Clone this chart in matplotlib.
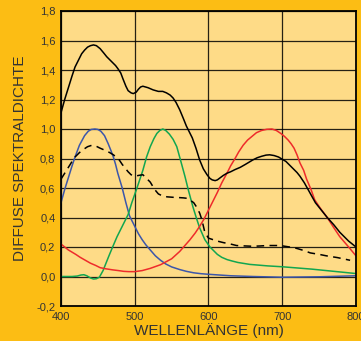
import numpy as np
import matplotlib.pyplot as plt

# wavelength (nm) / value pairs
wl_total = [400, 405, 410, 415, 419, 424, 428, 432, 436, 440, 444, 448, 453, 458, 462, 466, 470, 474,
            477, 481, 484, 488, 491, 495, 498, 502, 505, 508, 511, 518, 525, 532, 538, 543, 548,
            552, 556, 561, 566, 570, 574, 578, 583, 588, 593, 598, 602, 605, 609, 612, 616, 620,
            625, 630, 636, 643, 650, 660, 666, 672, 678, 683, 689, 695, 700, 705, 710, 715, 720,
            724, 730, 735, 740, 745, 753, 761, 770, 778, 784, 790, 795, 800]
total = [1.11, 1.20, 1.28, 1.36, 1.42, 1.47, 1.51, 1.535, 1.555, 1.565, 1.57, 1.565, 1.545, 1.515, 1.49,
         1.47, 1.45, 1.43, 1.41, 1.38, 1.34, 1.29, 1.26, 1.245, 1.24, 1.25, 1.27, 1.285, 1.29, 1.28,
         1.265, 1.255, 1.255, 1.245, 1.23, 1.21, 1.18, 1.13, 1.07, 1.02, 0.98, 0.94, 0.87, 0.79, 0.73,
         0.69, 0.665, 0.655, 0.65, 0.655, 0.67, 0.685, 0.70, 0.71, 0.725, 0.74, 0.76, 0.79, 0.805,
         0.815, 0.823, 0.825, 0.82, 0.81, 0.795, 0.78, 0.755, 0.73, 0.705, 0.68, 0.635, 0.59, 0.545,
         0.50, 0.45, 0.40, 0.35, 0.30, 0.27, 0.24, 0.22, 0.20]

wl_blue = [400, 405, 410, 415, 419, 425, 432, 437, 441, 446, 450, 454, 459, 464, 468, 471, 474, 477,
           480, 483, 488, 493, 500, 505, 510, 515, 521, 528, 535, 542, 550, 561, 570, 580, 590, 600,
           615, 630, 660, 700, 750, 800]
blue = [0.50, 0.59, 0.67, 0.75, 0.81, 0.89, 0.955, 0.985, 0.997, 1.0, 0.997, 0.985, 0.955, 0.90, 0.85,
        0.81, 0.76, 0.70, 0.65, 0.60, 0.50, 0.41, 0.34, 0.29, 0.25, 0.215, 0.18, 0.14, 0.11, 0.085,
        0.065, 0.047, 0.035, 0.025, 0.019, 0.015, 0.01, 0.005, 0.0, -0.005, -0.002, 0.005]

wl_green = [400, 415, 422, 427, 431, 435, 440, 444, 448, 452, 457, 465, 470, 476, 481, 485, 491,
            496, 503, 511, 516, 521, 526, 530, 534, 538, 542, 547, 552, 557, 562, 568, 573, 579,
            584, 588, 595, 602, 608, 612, 618, 625, 632, 640, 656, 680, 700, 740, 770, 800]
green = [0.0, 0.0, 0.003, 0.01, 0.012, 0.005, -0.01, -0.017, -0.015, -0.005, 0.04, 0.14, 0.20, 0.27,
         0.32, 0.36, 0.42, 0.50, 0.60, 0.72, 0.81, 0.88, 0.935, 0.97, 0.99, 1.0, 0.99, 0.965, 0.93, 0.88,
         0.79, 0.68, 0.58, 0.47, 0.39, 0.33, 0.25, 0.20, 0.17, 0.15, 0.13, 0.115, 0.105, 0.095, 0.082,
         0.072, 0.066, 0.05, 0.035, 0.02]

wl_red = [400, 410, 420, 426, 433, 440, 447, 453, 461, 470, 478, 485, 492, 500, 510, 521, 535, 550,
          561, 568, 575, 582, 588, 594, 600, 606, 612, 618, 625, 630, 636, 641, 647, 653, 659, 665,
          672, 679, 686, 692, 698, 703, 708, 712, 716, 720, 724, 729, 733, 739, 744, 752, 761, 770,
          778, 784, 790, 795, 800]
red = [0.22, 0.18, 0.15, 0.13, 0.11, 0.09, 0.075, 0.06, 0.052, 0.045, 0.04, 0.035, 0.033, 0.033, 0.04,
       0.055, 0.08, 0.12, 0.17, 0.21, 0.25, 0.295, 0.34, 0.39, 0.45, 0.51, 0.57, 0.635, 0.70, 0.75, 0.80,
       0.845, 0.89, 0.925, 0.95, 0.975, 0.99, 0.998, 1.0, 0.99, 0.97, 0.95, 0.925, 0.90, 0.87, 0.825,
       0.77, 0.72, 0.66, 0.59, 0.52, 0.46, 0.40, 0.33, 0.27, 0.235, 0.20, 0.17, 0.14]

wl_dash = [400, 405, 410, 415, 419, 425, 430, 436, 442, 447, 453, 460, 466, 471, 475, 479, 483, 487,
           491, 495, 500, 505, 511, 516, 521, 527, 532, 538, 544, 552, 560, 566, 571, 576, 580, 584,
           588, 591, 595, 600, 606, 612, 620, 630, 638, 650, 660, 670, 680, 690, 697, 710, 720, 730,
           738, 750, 760, 775, 792]
dash = [0.66, 0.70, 0.74, 0.78, 0.81, 0.84, 0.86, 0.88, 0.89, 0.885, 0.87, 0.855, 0.84, 0.825, 0.81,
        0.79, 0.76, 0.735, 0.71, 0.69, 0.68, 0.685, 0.69, 0.665, 0.64, 0.59, 0.56, 0.545, 0.54, 0.537,
        0.535, 0.533, 0.53, 0.515, 0.50, 0.47, 0.43, 0.385, 0.30, 0.26, 0.25, 0.24, 0.23, 0.22, 0.21,
        0.207, 0.205, 0.207, 0.21, 0.21, 0.21, 0.20, 0.19, 0.175, 0.16, 0.15, 0.14, 0.128, 0.11]

yticks = [-0.2, 0.0, 0.2, 0.4, 0.6, 0.8, 1.0, 1.2, 1.4, 1.6, 1.8]
xticks = [400, 500, 600, 700, 800]

plt.rcParams['font.family'] = ['Liberation Sans', 'DejaVu Sans']

fig = plt.figure(figsize=(3.61, 3.41), dpi=100, facecolor='#fcbd14')
ax = fig.add_axes([61/361, 35/341, 295/361, 295/341])
ax.set_facecolor('#fedb87')

lw = 1.1
ax.plot(wl_blue, blue, color='#3c56aa', lw=lw)
ax.plot(wl_green, green, color='#12a650', lw=lw)
ax.plot(wl_red, red, color='#ee2b2b', lw=lw)
ax.plot(wl_dash, dash, color='black', lw=lw, linestyle=(0, (5, 3.5)))
ax.plot(wl_total, total, color='black', lw=lw)

ax.set_xlim(400, 800)
ax.set_ylim(-0.2, 1.8)
ax.set_xticks(xticks)
ax.set_yticks(yticks)
ax.set_xticklabels([str(t) for t in xticks])
ax.set_yticklabels([f"{t:.1f}".replace('.', ',') for t in yticks])
ax.tick_params(length=0, labelsize=8, colors='#333333', pad=4)
ax.grid(True, color='black', lw=0.9, alpha=0.85)
ax.set_axisbelow(True)
for s in ax.spines.values():
    s.set_linewidth(1.3)
    s.set_color('black')

ax.set_xlabel('WELLENLÄNGE (nm)', fontsize=11, color='#333333', labelpad=1)
ax.set_ylabel('DIFFUSE SPEKTRALDICHTE', fontsize=11, color='#333333', labelpad=7)

fig.savefig('out.png', dpi=100, facecolor=fig.get_facecolor())
